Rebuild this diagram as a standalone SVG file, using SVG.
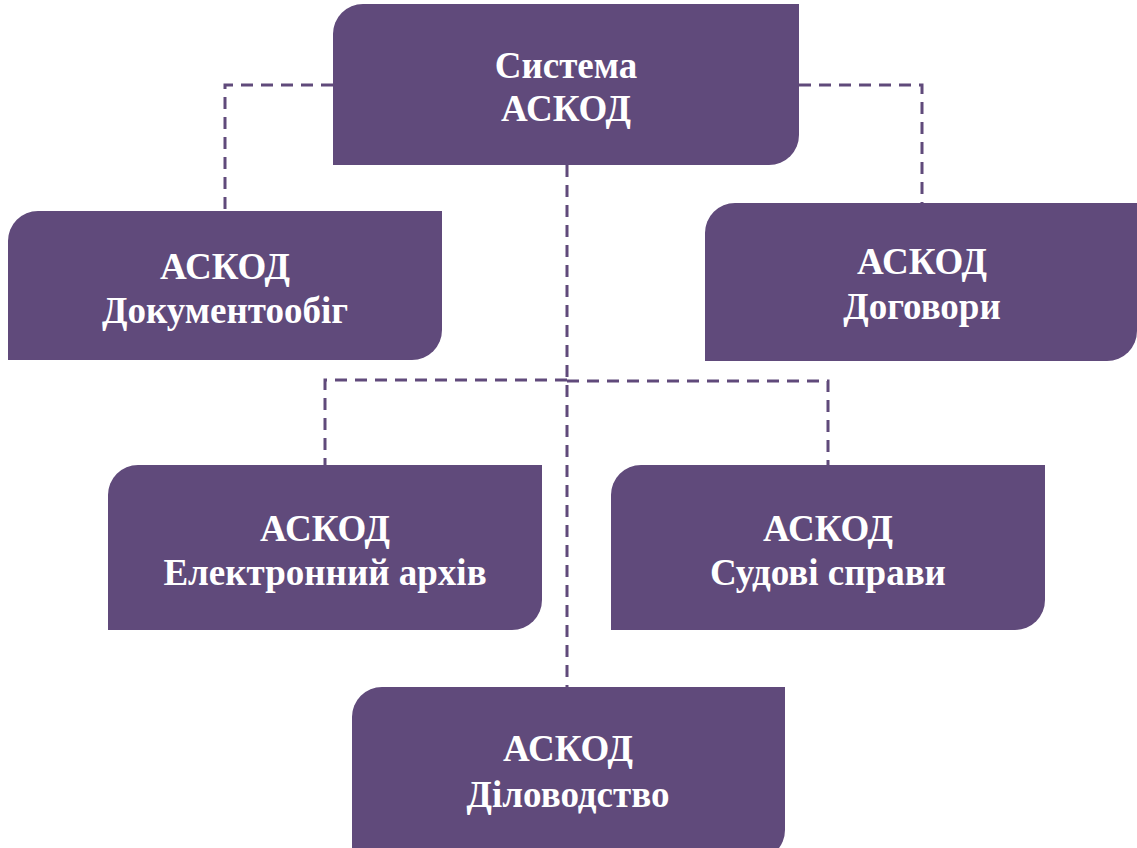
<svg xmlns="http://www.w3.org/2000/svg" width="1137" height="848" viewBox="0 0 1137 848">
<style>
.box{fill:#604A7B}
.t{font-family:"Liberation Serif","Times New Roman",serif;font-weight:bold;font-size:37px;fill:#fff;text-anchor:middle}
.c{fill:none;stroke:#604A7B;stroke-width:3;stroke-dasharray:12 8}
</style>
<rect width="1137" height="848" fill="#fff"/>
<g id="connectors">
<path class="c" d="M333 85 H225 V211"/>
<path class="c" d="M799 85 H922 V203"/>
<path class="c" d="M567 165 V687"/>
<path class="c" d="M567 380 H325 V465"/>
<path class="c" d="M567 381 H828 V465"/>
</g>
<g id="n-system">
<path class="box" d="M363 4 H799 V135 A30 30 0 0 1 769 165 H333 V34 A30 30 0 0 1 363 4 Z"/>
<text class="t" x="566" y="78">Система</text>
<text class="t" x="566" y="121">АСКОД</text>
</g>
<g id="n-doc">
<path class="box" d="M38 211 H442 V330 A30 30 0 0 1 412 360 H8 V241 A30 30 0 0 1 38 211 Z"/>
<text class="t" x="225" y="279">АСКОД</text>
<text class="t" x="225" y="323">Документообіг</text>
</g>
<g id="n-dog">
<path class="box" d="M735 203 H1137 V331 A30 30 0 0 1 1107 361 H705 V233 A30 30 0 0 1 735 203 Z"/>
<text class="t" x="922" y="274">АСКОД</text>
<text class="t" x="922" y="319">Договори</text>
</g>
<g id="n-arch">
<path class="box" d="M138 465 H542 V600 A30 30 0 0 1 512 630 H108 V495 A30 30 0 0 1 138 465 Z"/>
<text class="t" x="325" y="541">АСКОД</text>
<text class="t" x="325" y="585">Електронний архів</text>
</g>
<g id="n-sud">
<path class="box" d="M641 465 H1045 V600 A30 30 0 0 1 1015 630 H611 V495 A30 30 0 0 1 641 465 Z"/>
<text class="t" x="828" y="541">АСКОД</text>
<text class="t" x="828" y="585">Судові справи</text>
</g>
<g id="n-dil">
<path class="box" d="M382 687 H785 V830 A30 30 0 0 1 755 860 H352 V717 A30 30 0 0 1 382 687 Z"/>
<text class="t" x="568" y="761">АСКОД</text>
<text class="t" x="568" y="807">Діловодство</text>
</g>
</svg>
